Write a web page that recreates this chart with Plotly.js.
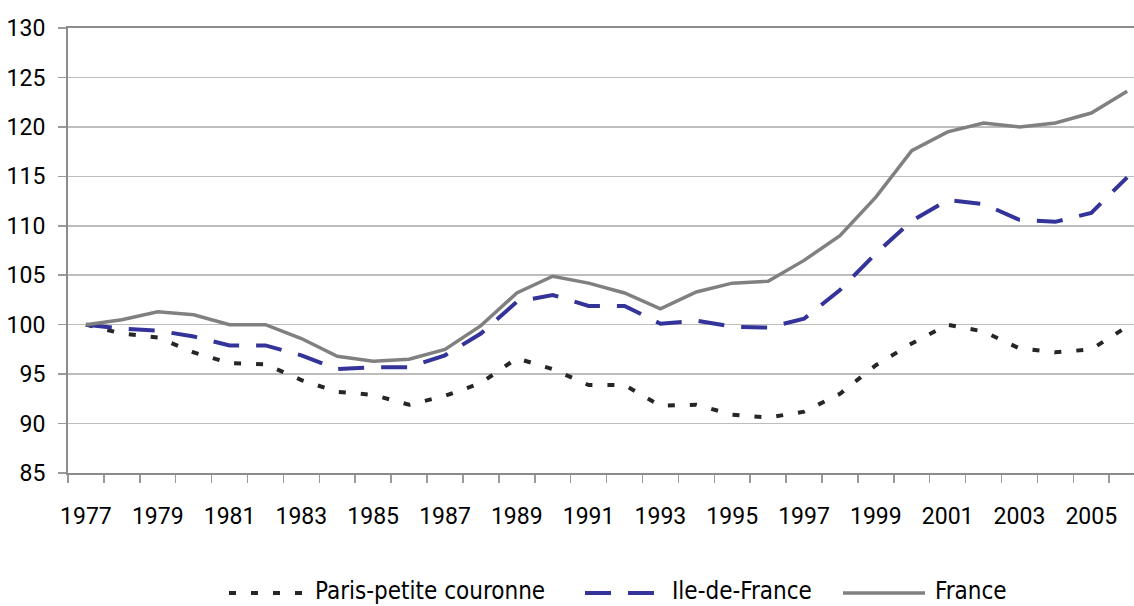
<!DOCTYPE html>
<html>
<head>
<meta charset="utf-8">
<script src="https://cdn.plot.ly/plotly-3.0.1.min.js"></script>
<style>html,body{margin:0;padding:0;background:#fff;}#chart{width:1134px;height:606px;}</style>
</head>
<body>
<div id="chart"></div>
<script>
var years = [1977,1978,1979,1980,1981,1982,1983,1984,1985,1986,1987,1988,1989,1990,1991,1992,1993,1994,1995,1996,1997,1998,1999,2000,2001,2002,2003,2004,2005,2006];
var yearLabels = [1977,1979,1981,1983,1985,1987,1989,1991,1993,1995,1997,1999,2001,2003,2005];
var seriesNames = ["Paris-petite couronne", "Ile-de-France", "France"];
var parisPC = [100,99.1,98.7,97.2,96.1,96.0,94.4,93.2,92.9,91.9,92.8,94.1,96.6,95.5,93.9,93.9,91.8,91.9,90.9,90.6,91.2,93.0,95.9,98.1,100.0,99.3,97.6,97.2,97.5,99.8];
var ileDeFrance = [100,99.6,99.4,98.8,97.9,97.9,96.9,95.5,95.7,95.7,96.9,99.1,102.3,103.0,101.9,101.9,100.1,100.4,99.8,99.7,100.6,103.5,107.2,110.5,112.6,112.2,110.6,110.4,111.3,114.9];
var france = [100,100.5,101.3,101.0,100.0,100.0,98.6,96.8,96.3,96.5,97.5,99.9,103.2,104.9,104.2,103.2,101.6,103.3,104.2,104.4,106.5,109.0,112.9,117.6,119.5,120.4,120.0,120.4,121.4,123.6];

var colors = ["#262626", "#333399", "#808080"];
var dashes = ["7px,15px", "26px,17px", "solid"];
var widths = [4, 4, 3.5];
var values = [parisPC, ileDeFrance, france];

var traces = values.map(function(v, i){
  return {x: years, y: v, type: "scatter", mode: "lines", name: seriesNames[i],
          line: {color: colors[i], width: widths[i], dash: dashes[i]}, showlegend: false};
});

// custom legend (pixel geometry converted to paper coords)
var plotL = 68, plotW = 1066, plotB = 473, plotH = 445;
function px(x){ return (x - plotL) / plotW; }
function py(y){ return (plotB - y) / plotH; }
var legSym = [[229, 312], [585, 655], [843, 925]];
var legText = [313, 670, 933];
var legY = 593;
var legTextY = 591;
var shapes = [], annotations = [];
for (var i = 0; i < 3; i++) {
  shapes.push({type: "line", xref: "paper", yref: "paper",
    x0: px(legSym[i][0]), x1: px(legSym[i][1]), y0: py(legY), y1: py(legY),
    line: {color: colors[i], width: widths[i], dash: dashes[i]}});
  annotations.push({xref: "paper", yref: "paper", x: px(legText[i]), y: py(legTextY),
    xanchor: "left", yanchor: "middle", showarrow: false, text: seriesNames[i],
    font: {family: "DejaVu Sans Condensed, DejaVu Sans", size: 24, color: "#000"}});
}

var layout = {
  width: 1134, height: 606,
  margin: {l: 68, r: 0, t: 28, b: 133},
  paper_bgcolor: "#fff", plot_bgcolor: "#fff",
  font: {family: "Roboto, sans-serif", size: 23, color: "#000"},
  xaxis: {
    range: [1976.5, 2006.19],
    tickmode: "array", tickvals: yearLabels, ticktext: yearLabels.map(String),
    ticks: "", showgrid: false, zeroline: false,
    showline: true, linecolor: "#8c8c8c", linewidth: 2, mirror: true,
    ticklabelstandoff: 21,
    minor: {tick0: 1976.5, dtick: 1, ticks: "outside", ticklen: 8, tickwidth: 1.5, tickcolor: "#9a9a9a", showgrid: false},
    tickfont: {family: "Roboto, sans-serif", size: 23, color: "#000"}
  },
  yaxis: {
    range: [85, 130], dtick: 5, tick0: 85,
    showgrid: true, gridcolor: "#bdbdbd", gridwidth: 1.5, zeroline: false,
    showline: true, linecolor: "#8c8c8c", linewidth: 2,
    ticks: "outside", ticklen: 8, tickwidth: 1.5, tickcolor: "#9a9a9a",
    ticklabelstandoff: 8,
    tickfont: {family: "Roboto, sans-serif", size: 23, color: "#000"}
  },
  shapes: shapes,
  annotations: annotations
};

Plotly.newPlot("chart", traces, layout, {displayModeBar: false, staticPlot: true});
</script>
</body>
</html>
